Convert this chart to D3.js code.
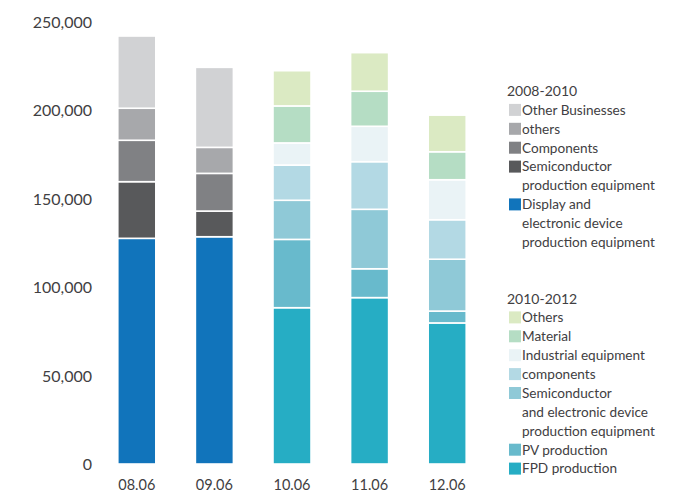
<!DOCTYPE html>
<html>
<head>
<meta charset="utf-8">
<script src="https://cdn.jsdelivr.net/npm/d3@7/dist/d3.min.js"></script>
<style>
  html, body { margin: 0; padding: 0; background: #fff; }
  svg text { font-family: Lato, "Open Sans", sans-serif; fill: #414042; font-weight: 400; }
</style>
</head>
<body>
<svg id="chart" width="697" height="495"></svg>
<script>
// Fiscal periods (June year-ends)
const periods = ["08.06", "09.06", "10.06", "11.06", "12.06"];

// 2008-2010 segment breakdown (bottom to top)
const displayEquip   = [127500, 128400, 0, 0, 0];
const semiEquipOld   = [32000, 14500, 0, 0, 0];
const componentsOld  = [23400, 21300, 0, 0, 0];
const othersOld      = [18100, 14700, 0, 0, 0];
const otherBusiness  = [40800, 45200, 0, 0, 0];

// 2010-2012 segment breakdown (bottom to top)
const fpdProduction  = [0, 0, 88300, 94000, 79700];
const pvProduction   = [0, 0, 38600, 16300, 6700];
const semiElecEquip  = [0, 0, 22100, 33600, 29300];
const componentsNew  = [0, 0, 19900, 26900, 22300];
const industrialEq   = [0, 0, 12500, 20000, 22600];
const material       = [0, 0, 20900, 19800, 15800];
const othersNew      = [0, 0, 19900, 21800, 20700];

const yTicks = [0, 50000, 100000, 150000, 200000, 250000];

const series = [
  { key: "displayEquip",  values: displayEquip,  color: "#1174bb" },
  { key: "semiEquipOld",  values: semiEquipOld,  color: "#58595b" },
  { key: "componentsOld", values: componentsOld, color: "#808184" },
  { key: "othersOld",     values: othersOld,     color: "#a7a8ab" },
  { key: "otherBusiness", values: otherBusiness, color: "#d1d2d4" },
  { key: "fpdProduction", values: fpdProduction, color: "#26adc4" },
  { key: "pvProduction",  values: pvProduction,  color: "#68bacc" },
  { key: "semiElecEquip", values: semiElecEquip, color: "#8fc9d7" },
  { key: "componentsNew", values: componentsNew, color: "#b3d9e4" },
  { key: "industrialEq",  values: industrialEq,  color: "#eaf3f6" },
  { key: "material",      values: material,      color: "#b5ddc4" },
  { key: "othersNew",     values: othersNew,     color: "#dbeac3" }
];

const legendOld = {
  title: "2008-2010",
  items: [
    { lines: ["Other Businesses"], color: "#d1d2d4" },
    { lines: ["others"], color: "#a7a8ab" },
    { lines: ["Components"], color: "#808184" },
    { lines: ["Semiconductor", "production equipment"], color: "#58595b" },
    { lines: ["Display and", "electronic device", "production equipment"], color: "#1174bb" }
  ]
};
const legendNew = {
  title: "2010-2012",
  items: [
    { lines: ["Others"], color: "#dbeac3" },
    { lines: ["Material"], color: "#b5ddc4" },
    { lines: ["Industrial equipment"], color: "#eaf3f6" },
    { lines: ["components"], color: "#b3d9e4" },
    { lines: ["Semiconductor", "and electronic device", "production equipment"], color: "#8fc9d7" },
    { lines: ["PV production"], color: "#68bacc" },
    { lines: ["FPD production"], color: "#26adc4" }
  ]
};

const svg = d3.select("#chart");

const x = d3.scaleBand()
  .domain(periods)
  .range([98, 486])
  .paddingInner(0.51)
  .paddingOuter(0.255);

const y = d3.scaleLinear()
  .domain([0, 250000])
  .range([464, 21.5]);

// Build stacked layout
const rows = periods.map((p, i) => {
  const r = { period: p };
  series.forEach(s => { r[s.key] = s.values[i]; });
  return r;
});
const stacked = d3.stack().keys(series.map(s => s.key))(rows);
const colorOf = Object.fromEntries(series.map(s => [s.key, s.color]));

const bars = svg.append("g");
stacked.forEach(layer => {
  bars.append("g")
    .attr("fill", colorOf[layer.key])
    .selectAll("rect")
    .data(layer.filter(d => d[1] - d[0] > 0))
    .join("rect")
      .attr("x", d => x(d.data.period))
      .attr("width", x.bandwidth())
      .attr("y", d => y(d[1]))
      .attr("height", d => y(d[0]) - y(d[1]))
      .attr("stroke", "#ffffff")
      .attr("stroke-width", 1.6);
});

// Y axis labels (no axis line)
const yAxis = svg.append("g")
  .attr("transform", "translate(92,0)")
  .call(d3.axisLeft(y).tickValues(yTicks).tickSize(0).tickPadding(0)
    .tickFormat(d3.format(",")));
yAxis.select(".domain").remove();
yAxis.selectAll("text")
  .attr("font-size", 16)
  .attr("font-family", "Lato, sans-serif")
  .attr("fill", "#48484a")
  .attr("dy", "0.36em");

// X axis labels
const xAxis = svg.append("g")
  .attr("transform", "translate(0,480)")
  .call(d3.axisBottom(x).tickSize(0).tickPadding(0));
xAxis.select(".domain").remove();
xAxis.selectAll("text")
  .attr("font-size", 14.5)
  .attr("font-family", "Lato, sans-serif")
  .attr("fill", "#48484a")
  .attr("dy", "0.71em");

// Legends
function drawLegend(spec, titleY) {
  const g = svg.append("g");
  const rowH = 18.9;
  g.append("text")
    .attr("x", 507)
    .attr("y", titleY)
    .attr("dy", "0.36em")
    .attr("font-size", 14)
    .text(spec.title);
  let row = 1;
  spec.items.forEach(item => {
    const cy = titleY + row * rowH;
    g.append("rect")
      .attr("x", 509)
      .attr("y", cy - 6)
      .attr("width", 12)
      .attr("height", 12)
      .attr("fill", item.color);
    item.lines.forEach((ln, k) => {
      g.append("text")
        .attr("x", 522)
        .attr("y", cy + k * rowH)
        .attr("dy", "0.36em")
        .attr("font-size", 13.6)
        .text(ln);
    });
    row += item.lines.length;
  });
}
drawLegend(legendOld, 91);
drawLegend(legendNew, 298.5);
</script>
</body>
</html>
